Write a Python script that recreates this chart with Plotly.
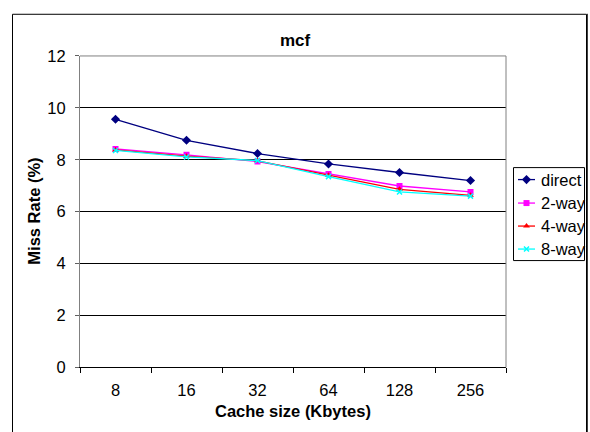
import plotly.graph_objects as go

# Miss rate of the mcf benchmark versus cache size, per associativity
cache_sizes = ["8", "16", "32", "64", "128", "256"]
direct = [9.56, 8.75, 8.24, 7.84, 7.51, 7.20]
two_way = [8.42, 8.19, 7.93, 7.45, 6.99, 6.76]
four_way = [8.38, 8.14, 7.96, 7.40, 6.86, 6.63]
eight_way = [8.36, 8.11, 7.97, 7.35, 6.76, 6.60]
series_names = ["direct", "2-way", "4-way", "8-way"]
y_ticks = [0, 2, 4, 6, 8, 10, 12]

W, H = 590, 432
FONT = "Liberation Sans, Arial, sans-serif"


def px(x):
    return x / W


def py(y):
    return 1 - y / H


styles = [
    dict(color="#000080", symbol="diamond", size=7, lw=0),
    dict(color="#FF00FF", symbol="square", size=6, lw=0),
    dict(color="#FF0000", symbol="triangle-up", size=6, lw=0),
    dict(color="#00FFFF", symbol="x-thin-open", size=5, lw=1.5),
]
series_values = [direct, two_way, four_way, eight_way]

fig = go.Figure()

for name, vals, st in zip(series_names, series_values, styles):
    fig.add_trace(go.Scatter(
        x=cache_sizes, y=vals, name=name, mode="lines+markers",
        line=dict(color=st["color"], width=1.3),
        marker=dict(symbol=st["symbol"], size=st["size"], color=st["color"],
                    line=dict(color=st["color"], width=st["lw"])),
        showlegend=False, xaxis="x", yaxis="y",
    ))

# Hand-built legend: sample line + marker on a full-figure pixel overlay
leg_left, leg_top, leg_right, leg_bottom = 513.5, 165.5, 584.5, 262.5
item_y = [178, 202.5, 226.5, 250.5]
for name, st, yy in zip(series_names, styles, item_y):
    fig.add_trace(go.Scatter(
        x=[518, 535], y=[yy, yy], mode="lines",
        line=dict(color=st["color"], width=1.3),
        showlegend=False, xaxis="x2", yaxis="y2", hoverinfo="skip",
    ))
    fig.add_trace(go.Scatter(
        x=[526.5], y=[yy], mode="markers",
        marker=dict(symbol=st["symbol"], size=st["size"], color=st["color"],
                    line=dict(color=st["color"], width=st["lw"])),
        showlegend=False, xaxis="x2", yaxis="y2", hoverinfo="skip",
    ))

annotations = [
    dict(text="<b>mcf</b>", x=px(295), y=py(33), font=dict(size=17)),
    dict(text="<b>Cache size (Kbytes)</b>", x=px(293), y=py(419), font=dict(size=16.5)),
    dict(text="<b>Miss Rate (%)</b>", x=px(34), y=py(211.5), textangle=-90,
         font=dict(size=16.5)),
]
for name, yy in zip(series_names, item_y):
    annotations.append(dict(text=name, x=px(539), y=py(yy), xanchor="left",
                            font=dict(size=16.5)))
for a in annotations:
    a.setdefault("xanchor", "center")
    a.update(xref="paper", yref="paper", yanchor="middle", showarrow=False)
    a["font"] = dict(family=FONT, color="black", **a["font"])

shapes = [
    # chart frame with darker right edge
    dict(type="rect", xref="paper", yref="paper", x0=px(12.5), x1=px(586.5),
         y0=py(5.5), y1=py(445), line=dict(color="black", width=1)),
    dict(type="line", xref="paper", yref="paper", x0=px(587.5), x1=px(587.5),
         y0=py(5), y1=py(445), line=dict(color="#404040", width=1)),
    # plot area top and right edges
    dict(type="line", xref="x domain", yref="y domain", x0=0, x1=1, y0=1, y1=1,
         line=dict(color="#808080", width=1)),
    dict(type="line", xref="x domain", yref="y domain", x0=1, x1=1, y0=0, y1=1,
         line=dict(color="#808080", width=1)),
    # legend box
    dict(type="rect", xref="paper", yref="paper", x0=px(leg_left), x1=px(leg_right),
         y0=py(leg_top), y1=py(leg_bottom), line=dict(color="black", width=1)),
]

fig.update_layout(
    width=W, height=H,
    margin=dict(l=0, r=0, t=0, b=0),
    paper_bgcolor="white", plot_bgcolor="rgba(0,0,0,0)",
    font=dict(family=FONT, size=16.5, color="black"),
    showlegend=False,
    xaxis=dict(
        domain=[px(80), px(506)], type="category", range=[-0.5, 5.5],
        tickson="boundaries", ticks="outside", ticklen=5, tickcolor="black",
        showline=True, linecolor="black", linewidth=1, showgrid=False,
        zeroline=False, tickfont=dict(size=16.5), ticklabelstandoff=8,
        anchor="y", fixedrange=True,
    ),
    yaxis=dict(
        domain=[py(374), py(49)], range=[0, 12], tickvals=y_ticks,
        ticks="outside", ticklen=4, tickcolor="#606060",
        showline=True, linecolor="#808080", linewidth=1,
        showgrid=True, gridcolor="black", gridwidth=1, zeroline=False,
        tickfont=dict(size=16.5), ticklabelstandoff=6, anchor="x", fixedrange=True,
    ),
    xaxis2=dict(domain=[0, 1], range=[0, W], visible=False, anchor="y2",
                fixedrange=True),
    yaxis2=dict(domain=[0, 1], range=[H, 0], visible=False, anchor="x2",
                fixedrange=True),
    annotations=annotations,
    shapes=shapes,
)

fig.write_html("out.html", config={"displayModeBar": False})
